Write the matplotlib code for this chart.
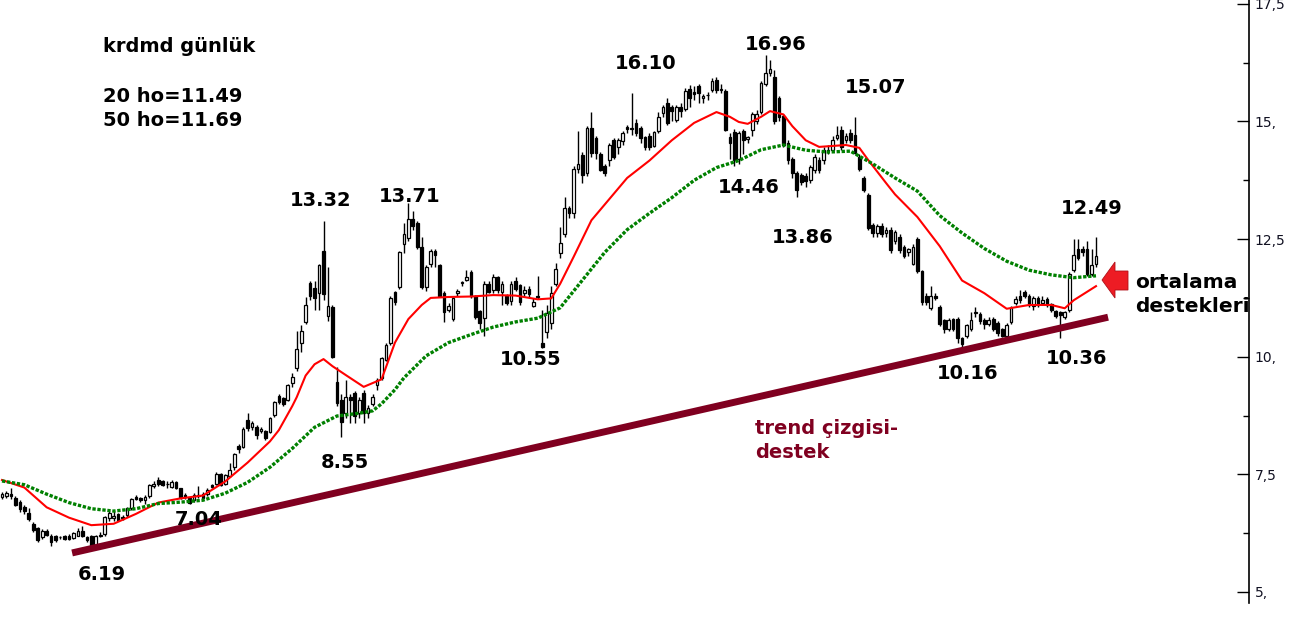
import matplotlib
matplotlib.use('Agg')
import matplotlib.pyplot as plt
from matplotlib.patches import Polygon
import numpy as np

# ---------------- data ----------------
opens = [7.02, 7.05, 7.08, 7.00, 6.92, 6.80, 6.68, 6.45, 6.35, 6.16,
         6.30, 6.20, 6.19, 6.16, 6.20, 6.20, 6.15, 6.20, 6.30, 6.17,
         6.20, 5.98, 6.20, 6.23, 6.57, 6.58, 6.65, 6.60, 6.63, 6.78,
         7.02, 7.00, 6.95, 7.04, 7.26, 7.37, 7.35, 7.30, 7.23, 7.33,
         7.20, 7.07, 7.00, 6.96, 7.04, 7.08, 7.08, 7.27, 7.30, 7.50,
         7.30, 7.47, 7.65, 8.10, 8.08, 8.65, 8.50, 8.50, 8.42, 8.42,
         8.40, 8.76, 9.17, 9.12, 9.08, 9.44, 9.76, 10.30, 10.74, 11.57,
         11.46, 11.35, 12.25, 10.87, 11.06, 9.46, 9.08, 8.80, 9.14, 9.23,
         8.80, 9.23, 8.80, 9.00, 9.40, 9.55, 9.93, 10.30, 11.38, 11.48,
         12.40, 12.52, 12.93, 12.84, 12.33, 11.48, 11.97, 12.25, 11.95, 11.36,
         11.00, 10.80, 11.36, 11.57, 11.64, 11.80, 11.30, 10.97, 10.82, 11.55,
         11.42, 11.70, 11.38, 11.30, 11.18, 11.60, 11.52, 11.35, 11.45, 11.08,
         11.30, 10.30, 10.53, 10.72, 11.55, 12.20, 12.60, 13.16, 13.05, 14.00,
         14.29, 13.90, 14.86, 14.65, 14.30, 14.05, 14.18, 14.60, 14.45, 14.58,
         14.88, 14.85, 14.97, 14.86, 14.67, 14.70, 14.48, 14.80, 15.18, 15.40,
         15.30, 15.03, 15.30, 15.27, 15.69, 15.62, 15.75, 15.50, 15.56, 15.67,
         15.88, 15.68, 15.65, 14.67, 14.78, 14.20, 14.80, 14.62, 14.82, 15.00,
         15.20, 15.80, 16.03, 15.95, 15.50, 15.12, 14.54, 14.20, 13.90, 13.86,
         13.84, 13.76, 13.97, 14.18, 14.18, 14.38, 14.40, 14.64, 14.82, 14.60,
         14.75, 14.71, 14.25, 13.80, 13.44, 12.80, 12.62, 12.78, 12.62, 12.70,
         12.45, 12.55, 12.33, 12.22, 11.97, 12.50, 11.82, 11.30, 11.04, 11.30,
         11.06, 10.78, 10.58, 10.80, 10.80, 10.40, 10.44, 10.60, 10.94, 10.90,
         10.78, 10.70, 10.80, 10.72, 10.60, 10.44, 10.74, 11.14, 11.30, 11.38,
         11.30, 11.08, 11.25, 11.15, 11.22, 11.12, 10.97, 10.95, 10.85, 11.00,
         11.84, 12.30, 12.28, 12.30, 11.76, 11.97]
highs = [7.12, 7.14, 7.20, 7.04, 6.96, 6.85, 6.78, 6.48, 6.38, 6.33,
         6.34, 6.24, 6.22, 6.20, 6.22, 6.23, 6.27, 6.36, 6.40, 6.20,
         6.22, 6.22, 6.28, 6.62, 6.72, 6.72, 6.68, 6.64, 6.80, 7.00,
         7.06, 7.02, 7.06, 7.30, 7.35, 7.45, 7.38, 7.35, 7.38, 7.35,
         7.22, 7.10, 7.02, 7.10, 7.25, 7.12, 7.20, 7.30, 7.55, 7.52,
         7.50, 7.75, 7.96, 8.14, 8.50, 8.80, 8.64, 8.55, 8.50, 8.45,
         8.72, 9.06, 9.20, 9.15, 9.42, 9.65, 10.55, 10.67, 11.27, 11.60,
         11.60, 11.98, 12.89, 11.90, 11.10, 9.78, 9.20, 9.50, 9.20, 9.28,
         9.15, 9.30, 8.98, 9.20, 9.55, 10.00, 10.30, 11.30, 11.40, 12.25,
         12.84, 13.27, 13.10, 12.88, 12.55, 11.95, 12.30, 12.28, 11.98, 11.40,
         11.15, 11.28, 11.45, 11.62, 11.85, 11.85, 11.32, 11.00, 11.60, 11.60,
         11.75, 11.72, 11.60, 11.33, 11.60, 11.70, 11.55, 11.50, 11.50, 11.25,
         11.72, 11.00, 11.10, 11.50, 12.00, 12.75, 13.40, 13.20, 14.05, 14.80,
         14.35, 14.90, 15.20, 14.70, 14.35, 14.10, 14.55, 14.65, 14.65, 14.80,
         14.92, 15.60, 15.05, 14.90, 14.70, 14.75, 14.80, 15.20, 15.36, 15.50,
         15.35, 15.35, 15.40, 15.72, 15.78, 15.75, 15.80, 15.58, 15.62, 15.92,
         15.95, 15.80, 15.70, 14.75, 14.85, 14.80, 14.85, 14.70, 15.20, 15.25,
         15.85, 16.41, 16.31, 16.10, 15.55, 15.15, 14.60, 14.25, 13.95, 13.90,
         13.90, 14.08, 14.30, 14.25, 14.45, 14.50, 14.70, 14.90, 14.90, 14.75,
         14.85, 15.10, 14.30, 13.85, 13.48, 12.85, 12.82, 12.85, 12.75, 12.75,
         12.70, 12.60, 12.38, 12.32, 12.40, 12.55, 11.85, 11.35, 11.50, 11.35,
         11.10, 10.80, 10.82, 10.82, 10.85, 10.42, 10.70, 10.95, 11.05, 10.95,
         10.82, 10.85, 10.84, 10.76, 10.62, 10.72, 11.08, 11.30, 11.42, 11.42,
         11.33, 11.30, 11.30, 11.30, 11.28, 11.15, 11.00, 10.98, 10.98, 11.80,
         12.50, 12.50, 12.35, 12.45, 12.30, 12.55]
lows = [6.98, 7.00, 6.98, 6.82, 6.70, 6.66, 6.50, 6.28, 6.06, 6.12,
        6.18, 5.98, 6.06, 6.12, 6.10, 6.10, 6.12, 6.18, 6.17, 6.06,
        5.94, 5.95, 6.16, 6.20, 6.50, 6.50, 6.50, 6.52, 6.60, 6.75,
        6.95, 6.92, 6.88, 7.00, 7.22, 7.26, 7.25, 7.22, 7.20, 7.18,
        6.97, 6.98, 6.86, 6.92, 7.00, 6.97, 7.05, 7.20, 7.27, 7.25,
        7.28, 7.44, 7.60, 7.95, 8.05, 8.42, 8.45, 8.25, 8.38, 8.22,
        8.38, 8.72, 9.00, 8.95, 9.05, 9.35, 9.70, 10.10, 10.70, 11.20,
        11.00, 11.00, 11.20, 10.76, 9.98, 8.95, 8.29, 8.70, 8.60, 8.60,
        8.70, 8.60, 8.70, 8.95, 9.30, 9.50, 9.90, 10.25, 11.10, 11.45,
        12.20, 12.45, 12.70, 12.30, 11.45, 11.40, 11.90, 11.90, 11.28, 10.74,
        10.95, 10.75, 11.30, 11.50, 11.60, 11.25, 10.80, 10.60, 10.45, 11.35,
        11.35, 11.35, 11.10, 11.10, 11.10, 11.40, 11.10, 11.30, 11.28, 11.05,
        11.22, 10.18, 10.40, 10.60, 11.50, 12.10, 12.55, 12.95, 12.95, 13.90,
        13.70, 13.85, 14.25, 14.20, 13.95, 13.85, 14.05, 14.20, 14.30, 14.50,
        14.75, 14.72, 14.70, 14.55, 14.40, 14.40, 14.45, 14.75, 15.10, 14.92,
        15.00, 14.98, 15.10, 15.22, 15.30, 15.45, 15.40, 15.40, 15.45, 15.62,
        15.60, 15.60, 14.80, 14.20, 14.05, 14.10, 14.30, 14.55, 14.70, 14.95,
        15.15, 15.75, 15.97, 14.95, 15.00, 14.45, 14.10, 13.80, 13.40, 13.65,
        13.60, 13.70, 13.90, 13.90, 14.10, 14.30, 14.35, 14.60, 14.40, 14.55,
        14.55, 14.30, 13.95, 13.50, 12.70, 12.55, 12.55, 12.55, 12.55, 12.20,
        12.40, 12.20, 12.10, 12.15, 11.95, 11.78, 11.10, 11.10, 11.00, 11.20,
        10.65, 10.50, 10.55, 10.55, 10.30, 10.20, 10.40, 10.55, 10.85, 10.70,
        10.60, 10.65, 10.55, 10.45, 10.42, 10.40, 10.70, 11.10, 11.15, 11.25,
        11.05, 11.00, 11.05, 11.10, 11.05, 10.95, 10.82, 10.40, 10.80, 10.95,
        11.80, 12.05, 12.15, 11.72, 11.72, 11.90]
closes = [7.08, 7.10, 7.05, 6.85, 6.76, 6.72, 6.55, 6.32, 6.10, 6.30,
          6.22, 6.06, 6.10, 6.17, 6.12, 6.12, 6.25, 6.30, 6.20, 6.10,
          5.96, 6.20, 6.22, 6.60, 6.68, 6.62, 6.53, 6.58, 6.78, 6.98,
          6.98, 6.95, 7.02, 7.27, 7.30, 7.30, 7.28, 7.29, 7.33, 7.22,
          7.00, 7.02, 6.90, 7.07, 7.07, 7.00, 7.17, 7.24, 7.50, 7.27,
          7.48, 7.60, 7.93, 8.04, 8.46, 8.48, 8.60, 8.33, 8.47, 8.27,
          8.70, 9.04, 9.04, 9.00, 9.40, 9.57, 10.16, 10.55, 11.10, 11.30,
          11.25, 11.95, 11.33, 11.08, 10.00, 9.02, 8.61, 9.14, 9.08, 8.75,
          9.08, 8.80, 8.92, 9.14, 9.50, 9.97, 10.25, 11.25, 11.16, 12.23,
          12.60, 12.93, 12.78, 12.33, 11.48, 11.90, 12.25, 12.17, 11.30, 10.95,
          11.08, 11.25, 11.40, 11.58, 11.70, 11.30, 10.84, 10.72, 11.55, 11.38,
          11.70, 11.42, 11.55, 11.14, 11.55, 11.45, 11.16, 11.42, 11.33, 11.16,
          11.28, 10.20, 10.93, 11.36, 11.87, 12.42, 13.16, 13.05, 13.99, 14.10,
          13.86, 14.86, 14.33, 14.33, 13.97, 13.90, 14.50, 14.25, 14.60, 14.76,
          14.84, 14.86, 14.76, 14.65, 14.46, 14.45, 14.78, 15.10, 15.30, 14.97,
          15.22, 15.30, 15.22, 15.65, 15.50, 15.58, 15.60, 15.55, 15.57, 15.86,
          15.67, 15.67, 14.82, 14.54, 14.18, 14.75, 14.60, 14.66, 15.16, 15.15,
          15.82, 16.03, 16.12, 15.00, 15.10, 14.50, 14.18, 13.90, 13.55, 13.72,
          13.73, 14.03, 14.25, 13.97, 14.40, 14.40, 14.60, 14.71, 14.46, 14.70,
          14.60, 14.33, 14.00, 13.55, 12.74, 12.63, 12.78, 12.60, 12.70, 12.27,
          12.65, 12.27, 12.14, 12.28, 12.33, 11.82, 11.16, 11.16, 11.29, 11.25,
          10.70, 10.59, 10.78, 10.58, 10.40, 10.27, 10.67, 10.78, 10.95, 10.75,
          10.70, 10.78, 10.60, 10.50, 10.45, 10.67, 11.04, 11.23, 11.20, 11.30,
          11.10, 11.25, 11.10, 11.20, 11.10, 11.00, 10.87, 10.88, 10.95, 11.76,
          12.16, 12.10, 12.22, 11.76, 11.95, 12.14]

ma20_idx = [0, 5, 10, 15, 20, 25, 30, 35, 40, 45, 50, 55, 60, 62, 65, 66, 68, 70, 72, 74,
            77, 81, 85, 88, 91, 94, 96, 100, 105, 110, 115, 120, 123, 125, 128, 132, 136,
            140, 145, 150, 155, 160, 163, 165, 167, 170, 172, 175, 177, 180, 183, 186, 189,
            192, 194, 198, 200, 205, 210, 215, 220, 225, 230, 235, 238, 240, 243, 245]
ma20_val = [7.38, 7.22, 6.80, 6.58, 6.42, 6.45, 6.66, 6.90, 6.99, 7.05, 7.35, 7.75, 8.20,
            8.44, 8.95, 9.14, 9.60, 9.84, 9.95, 9.80, 9.61, 9.36, 9.52, 10.30, 10.80, 11.10,
            11.25, 11.27, 11.28, 11.31, 11.30, 11.22, 11.24, 11.55, 12.12, 12.90, 13.35,
            13.80, 14.17, 14.60, 14.97, 15.20, 15.10, 14.99, 14.95, 15.10, 15.22, 15.15,
            14.90, 14.60, 14.46, 14.48, 14.50, 14.44, 14.18, 13.69, 13.45, 12.97, 12.35,
            11.62, 11.35, 11.02, 11.10, 11.10, 11.03, 11.20, 11.38, 11.50]
ma50_idx = [0, 5, 10, 15, 20, 25, 30, 35, 40, 45, 50, 55, 60, 65, 70, 75, 80, 83, 85, 88,
            90, 95, 100, 105, 110, 115, 120, 125, 130, 135, 140, 145, 150, 155, 160, 165,
            170, 175, 180, 185, 190, 195, 200, 205, 210, 215, 220, 225, 230, 235, 240, 245]
ma50_val = [7.36, 7.28, 7.08, 6.90, 6.77, 6.72, 6.77, 6.88, 6.91, 6.95, 7.10, 7.33, 7.65,
            8.05, 8.50, 8.74, 8.80, 8.85, 9.00, 9.30, 9.55, 10.02, 10.30, 10.47, 10.63,
            10.74, 10.82, 11.04, 11.63, 12.22, 12.70, 13.05, 13.38, 13.75, 14.02, 14.17,
            14.40, 14.50, 14.39, 14.35, 14.37, 14.10, 13.80, 13.52, 13.00, 12.63, 12.30,
            12.03, 11.84, 11.74, 11.68, 11.72]

trend_x = [15.7, 247.7]
trend_y = [5.83, 10.84]

ytick_vals = [5, 7.5, 10, 12.5, 15, 17.5]
ytick_labels = ['5,', '7,5', '10,', '12,5', '15,', '17,5']
ytick_minor = [6.25, 8.75, 11.25, 13.75, 16.25]

peak_labels = ['16.10', '16.96', '15.07', '13.32', '13.71', '14.46', '13.86', '12.49',
               '10.55', '10.16', '10.36', '8.55', '7.04', '6.19']

# ---------------- figure ----------------
W, H = 1306, 634
fig = plt.figure(figsize=(W / 100, H / 100), dpi=100)
fig.patch.set_facecolor('white')
ax = fig.add_axes([0, 31 / H, 1249 / W, 603 / H])

n = len(opens)
step = 1094 / (n - 1)
ax.set_xlim(-2 / step, 1247 / step)
ax.set_ylim(4.766, 17.582)

o = np.array(opens); h = np.array(highs); l = np.array(lows); c = np.array(closes)
xi = np.arange(n)
up = c >= o

ax.vlines(xi, l, h, color='black', linewidth=1.0, zorder=2)
ax.bar(xi[up], np.maximum(c - o, 0.01)[up], bottom=o[up], width=0.6,
       facecolor='white', edgecolor='black', linewidth=0.9, zorder=3)
ax.bar(xi[~up], (o - c)[~up], bottom=c[~up], width=0.6,
       facecolor='black', edgecolor='black', linewidth=0.9, zorder=3)

ax.plot(ma20_idx, ma20_val, color='#ff0000', linewidth=1.5, zorder=4)
ax.plot(ma50_idx, ma50_val, color='#008000', linewidth=2.4,
        linestyle=(0, (1, 0.5)), zorder=4)
ax.plot(trend_x, trend_y, color='#800020', linewidth=5, solid_capstyle='butt', zorder=5)

for side in ['top', 'left', 'bottom']:
    ax.spines[side].set_visible(False)
ax.spines['right'].set_linewidth(1.2)
ax.set_xticks([])
ax.yaxis.tick_right()
ax.set_yticks(ytick_vals)
ax.set_yticklabels(ytick_labels)
ax.set_yticks(ytick_minor, minor=True)
ax.tick_params(axis='y', which='major', direction='in', length=9, width=1,
               pad=4, labelsize=10, labelcolor='#111122')
ax.tick_params(axis='y', which='minor', direction='in', length=4, width=1)


def fx(px):
    return px / W


def fy(py):
    return 1 - py / H


bold = dict(fontsize=14, fontweight='bold', color='black', zorder=10)

fig.text(fx(103), fy(52), 'krdmd günlük', ha='left', va='baseline', **bold)
fig.text(fx(103), fy(102), '20 ho=11.49', ha='left', va='baseline', **bold)
fig.text(fx(103), fy(126), '50 ho=11.69', ha='left', va='baseline', **bold)

label_pos = [(646, 69), (776, 50), (876, 93), (321, 206), (410, 202), (749, 193),
             (803, 243), (1092, 214), (531, 365), (968, 379), (1077, 364), (345, 468),
             (199, 525), (102, 580)]
for txt, (px_, py_) in zip(peak_labels, label_pos):
    fig.text(fx(px_), fy(py_), txt, ha='center', va='baseline', **bold)

maroon = '#800020'
fig.text(fx(755), fy(434), 'trend çizgisi-', ha='left', va='baseline',
         fontsize=14, fontweight='bold', color=maroon)
fig.text(fx(755), fy(458), 'destek', ha='left', va='baseline',
         fontsize=14, fontweight='bold', color=maroon)

for s_, yy in [('ortalama', 288), ('destekleri', 312)]:
    t = ax.text(fx(1135), fy(yy), s_, transform=fig.transFigure, ha='left',
                va='baseline', fontsize=14.5, fontweight='bold', color='black',
                clip_on=True, zorder=10)
    t.set_clip_box(ax.bbox)

arrow_px = [(1102, 280), (1115, 262), (1115, 271), (1128, 271),
            (1128, 290), (1115, 290), (1115, 298)]
arrow = Polygon([(fx(a), fy(b)) for a, b in arrow_px], closed=True,
                transform=fig.transFigure, facecolor='#ed1c24',
                edgecolor='#b01018', linewidth=0.6, zorder=11)
fig.patches.append(arrow)

fig.savefig('out.png', dpi=100, facecolor='white')
